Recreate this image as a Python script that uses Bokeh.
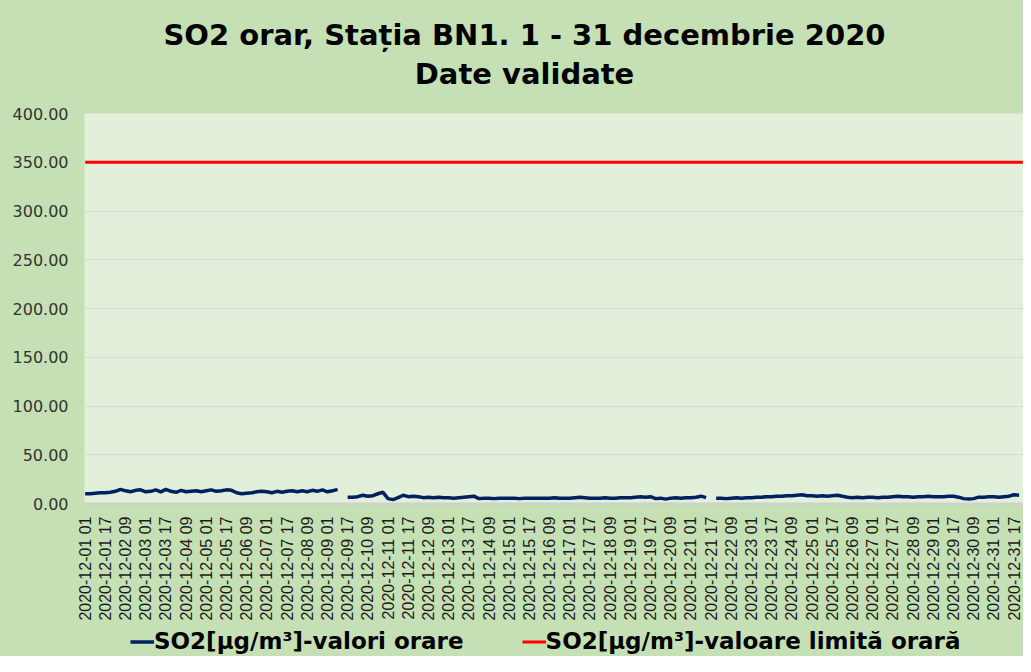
import math
from bokeh.plotting import figure
from bokeh.layouts import column
from bokeh.models import FixedTicker, Legend, LegendItem, ColumnDataSource, Label
from bokeh.embed import file_html
from bokeh.resources import INLINE

# ---- data -------------------------------------------------------------
# hour index from 2020-12-01 01 (0) to 2020-12-31 24 (743); readings every 4 hours
nan = float("nan")
so2_hours = list(range(0, 744, 4))
so2_values = [
    10, 10, 10.5, 11, 11, 11.5,          # 12-01
    12.5, 14.5, 13, 12, 13.5, 14,        # 12-02
    12, 12.5, 14, 12, 14.5, 12.5,        # 12-03
    11.5, 13.5, 12, 12.5, 13, 12,        # 12-04
    13, 14, 12.5, 13, 14, 13.5,          # 12-05
    11, 10, 10.5, 11, 12, 12.5,          # 12-06
    12, 11, 12.5, 11.5, 12.5, 13,        # 12-07
    12, 13, 12, 13.5, 12.5, 14,          # 12-08
    12, 13, 14.5, nan, 6.5, 6.5,         # 12-09
    7, 8.5, 7.5, 8, 10, 11.5,            # 12-10
    5, 4, 6, 8.5, 7, 7.5,                # 12-11
    7, 6, 6.5, 6, 6.5, 6,                # 12-12
    6, 5.5, 6, 6.5, 7, 7.5,              # 12-13
    5, 5.5, 5.5, 5, 5.5, 5.5,            # 12-14
    5.5, 5.5, 5, 5.5, 5.5, 5.5,          # 12-15
    5.5, 5.5, 5.5, 6, 5.5, 5.5,          # 12-16
    5.5, 6, 6.5, 6, 5.5, 5.5,            # 12-17
    5.5, 6, 5.5, 5.5, 6, 6,              # 12-18
    6, 6.5, 7, 6.5, 7, 5,                # 12-19
    5.5, 4.5, 5.5, 6, 5.5, 6,            # 12-20
    6, 6.5, 7.5, 6, nan, 5.5,            # 12-21
    5.5, 5, 5.5, 6, 5.5, 6,              # 12-22
    6, 6.5, 6.5, 7, 7, 7.5,              # 12-23
    7.5, 8, 8, 8.5, 9, 8,                # 12-24
    8, 7.5, 8, 7.5, 8, 8.5,              # 12-25
    7.5, 6.5, 6, 6.5, 6, 6.5,            # 12-26
    6.5, 6, 6.5, 6.5, 7, 7.5,            # 12-27
    7, 7, 6.5, 7, 7, 7.5,                # 12-28
    7, 7, 7, 7.5, 7.5, 6.5,              # 12-29
    5, 4.5, 5, 6.5, 6.5, 7,              # 12-30
    7, 6.5, 7, 7.5, 9, 8.5,              # 12-31
]
limit_hours = [0, 743]
limit_values = [350, 350]

tick_hours = list(range(0, 744, 16))
tick_labels = [
    "2020-12-01 01", "2020-12-01 17", "2020-12-02 09", "2020-12-03 01", "2020-12-03 17",
    "2020-12-04 09", "2020-12-05 01", "2020-12-05 17", "2020-12-06 09", "2020-12-07 01",
    "2020-12-07 17", "2020-12-08 09", "2020-12-09 01", "2020-12-09 17", "2020-12-10 09",
    "2020-12-11 01", "2020-12-11 17", "2020-12-12 09", "2020-12-13 01", "2020-12-13 17",
    "2020-12-14 09", "2020-12-15 01", "2020-12-15 17", "2020-12-16 09", "2020-12-17 01",
    "2020-12-17 17", "2020-12-18 09", "2020-12-19 01", "2020-12-19 17", "2020-12-20 09",
    "2020-12-21 01", "2020-12-21 17", "2020-12-22 09", "2020-12-23 01", "2020-12-23 17",
    "2020-12-24 09", "2020-12-25 01", "2020-12-25 17", "2020-12-26 09", "2020-12-27 01",
    "2020-12-27 17", "2020-12-28 09", "2020-12-29 01", "2020-12-29 17", "2020-12-30 09",
    "2020-12-31 01", "2020-12-31 17",
]
y_ticks = [0, 50, 100, 150, 200, 250, 300, 350, 400]

title_line1 = "SO2 orar, Stația BN1. 1 - 31 decembrie 2020"
title_line2 = "Date validate"
label_series = "SO2[µg/m³]-valori orare"
label_limit = "SO2[µg/m³]-valoare limită orară"

# ---- styling -----------------------------------------------------------
WIDE = "DejaVu Sans"
FONT = "Liberation Sans"
OUTER = "#C5E0B4"
INNER = "#E2EFDA"
SERIES_COLOR = "#002060"
LIMIT_COLOR = "#FF0000"
LEFT = 84
FW = 939
TOP_H = 103
LEG_H = 30


def strip(h):
    f = figure(frame_width=FW, frame_height=h, output_backend="svg", toolbar_location=None,
               x_range=(0, FW), y_range=(0, h), x_axis_type=None, y_axis_type=None,
               min_border_left=LEFT, min_border_right=0, min_border_top=0, min_border_bottom=0)
    f.border_fill_color = OUTER
    f.background_fill_alpha = 0
    f.outline_line_color = None
    f.grid.visible = False
    return f


# ---- title strip --------------------------------------------------------
top = strip(TOP_H)
for txt, base in ((title_line1, 34), (title_line2, 73)):
    top.add_layout(Label(x=524 - LEFT, y=TOP_H - base, text=txt, text_align="center",
                         text_baseline="alphabetic", text_font=WIDE, text_font_size="29px",
                         text_font_style="bold", text_color="#000000"))

# ---- main figure --------------------------------------------------------
p = figure(frame_width=FW, frame_height=390, output_backend="svg", toolbar_location=None,
           x_range=(-0.5, 743.5), y_range=(0, 400),
           min_border_left=LEFT, min_border_right=0, min_border_top=10, min_border_bottom=123)
p.border_fill_color = OUTER
p.background_fill_color = INNER
p.outline_line_color = None

p.yaxis.ticker = FixedTicker(ticks=y_ticks)
p.yaxis.major_label_overrides = {v: f"{v:.2f}" for v in y_ticks}
p.yaxis.major_label_text_font = WIDE
p.yaxis.major_label_text_font_size = "16px"
p.yaxis.major_label_text_color = "#333333"
p.yaxis.axis_line_color = None
p.yaxis.major_tick_line_color = None
p.yaxis.minor_tick_line_color = None
p.yaxis.major_label_standoff = 10

p.xaxis.ticker = FixedTicker(ticks=tick_hours)
p.xaxis.major_label_overrides = {h: t for h, t in zip(tick_hours, tick_labels)}
p.xaxis.major_label_orientation = math.pi / 2
p.xaxis.major_label_text_font = FONT
p.xaxis.major_label_text_font_size = "16px"
p.xaxis.major_label_text_color = "#1a1a1a"
p.xaxis.axis_line_color = "#D0D0D0"
p.xaxis.axis_line_width = 2
p.xaxis.major_tick_line_color = None
p.xaxis.minor_tick_line_color = None
p.xaxis.major_label_standoff = 7

p.xgrid.grid_line_color = None
p.ygrid.grid_line_color = "#D9D9D9"
p.ygrid.grid_line_width = 1

src = ColumnDataSource(dict(x=so2_hours, y=so2_values))
lim = ColumnDataSource(dict(x=limit_hours, y=limit_values))
p.line("x", "y", source=src, line_color=SERIES_COLOR, line_width=3.5)
p.line("x", "y", source=lim, line_color=LIMIT_COLOR, line_width=3)

# ---- legend strip -------------------------------------------------------
lg = strip(LEG_H)
lg.y_range.start, lg.y_range.end = -1000, -999   # keep key renderers' data out of view
k1 = lg.line("x", "y", source=src, line_color=SERIES_COLOR, line_width=3.5)
k2 = lg.line("x", "y", source=lim, line_color=LIMIT_COLOR, line_width=3)

legend = Legend(items=[LegendItem(label=label_series, renderers=[k1]),
                       LegendItem(label=label_limit, renderers=[k2])],
                orientation="horizontal", location=(130 - LEFT, 2))
legend.background_fill_alpha = 0
legend.border_line_color = None
legend.label_text_font = WIDE
legend.label_text_font_size = "23px"
legend.label_text_font_style = "bold"
legend.label_text_color = "#000000"
legend.glyph_width = 24
legend.glyph_height = 23
legend.label_height = 23
legend.spacing = 58
legend.label_standoff = 0
legend.padding = 0
legend.margin = 0
lg.add_layout(legend, "center")

layout = column(top, p, lg, spacing=0, styles={"background-color": OUTER})
open("out.html", "w").write(file_html(layout, INLINE))
